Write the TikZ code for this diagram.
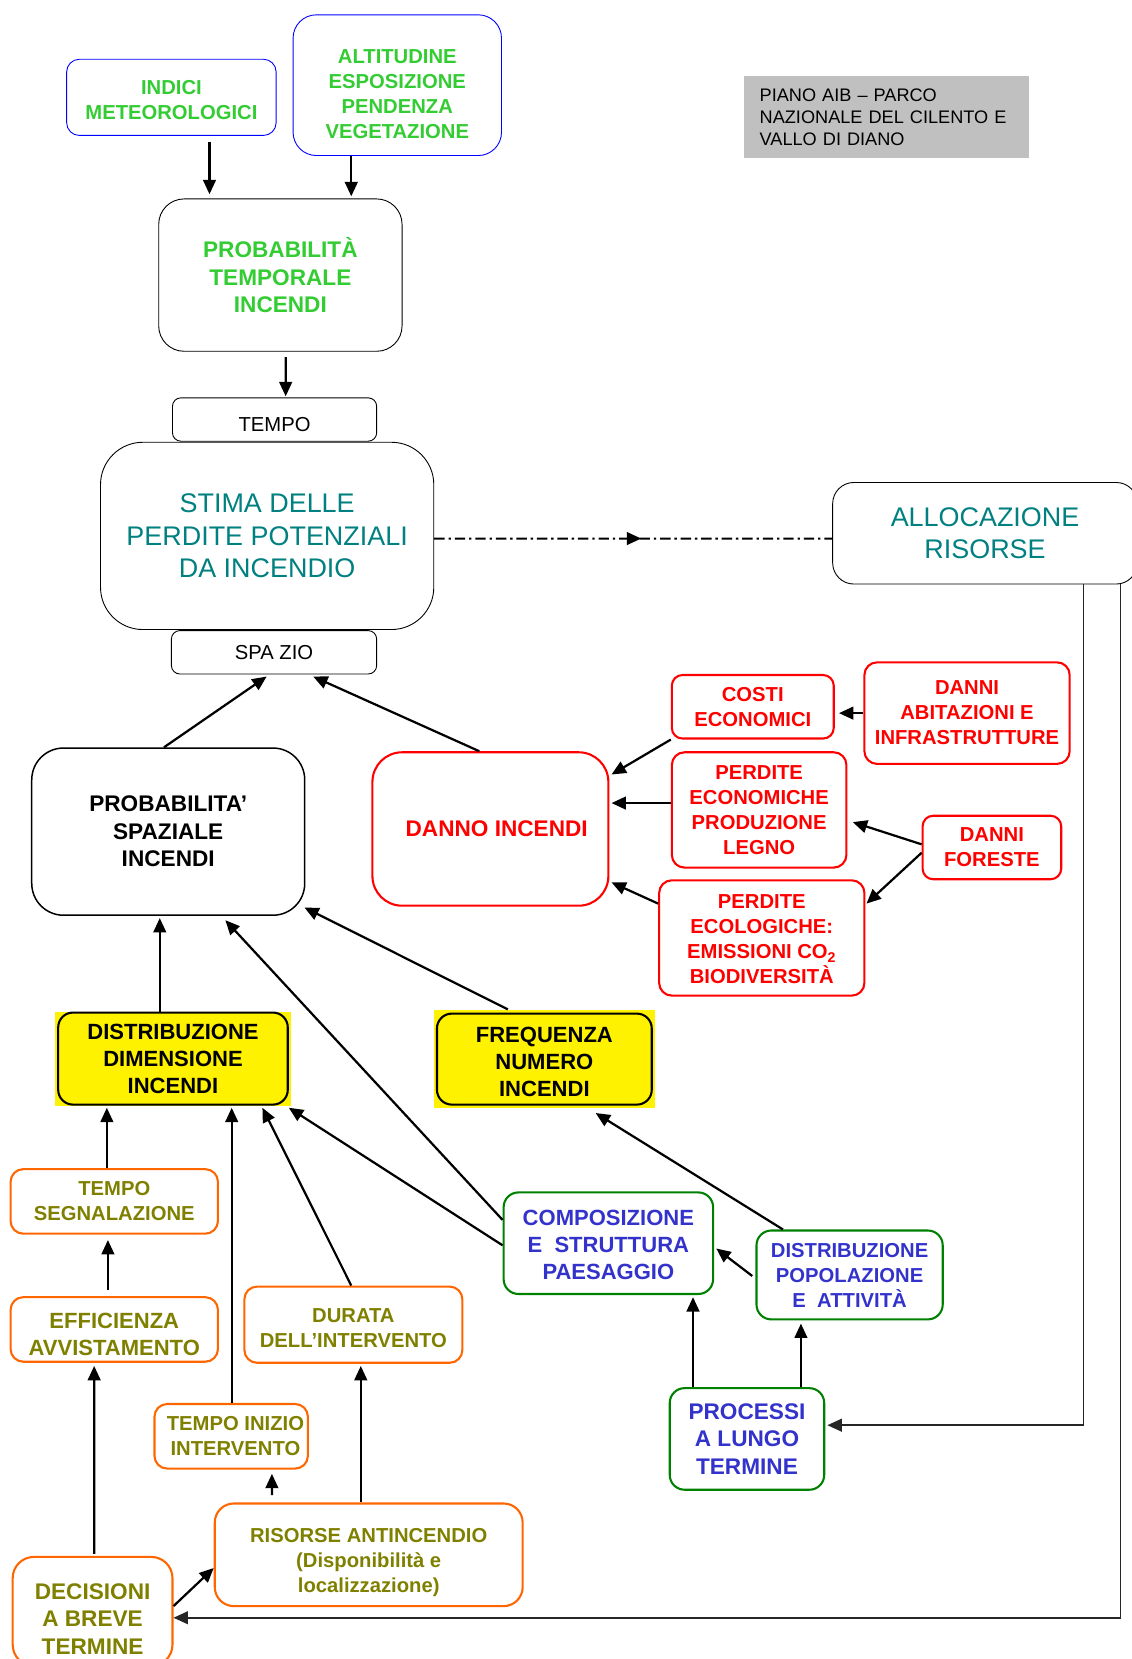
\documentclass[tikz,border=0pt]{standalone}
\usepackage{fontspec}
\setmainfont{Liberation Sans}
\usetikzlibrary{arrows.meta,calc,backgrounds,decorations.markings}

\definecolor{fgreen}{RGB}{51,204,51}
\definecolor{fteal}{RGB}{0,128,128}
\definecolor{forange}{RGB}{255,102,0}
\definecolor{folive}{RGB}{128,128,0}
\definecolor{fdkgreen}{RGB}{0,128,0}
\definecolor{fblue}{RGB}{51,51,204}
\definecolor{fgray}{RGB}{192,192,192}

\newcommand{\pxu}{0.025cm}
\newcommand{\fsmall}{\fontsize{13.6}{16.8}\selectfont\bfseries}
\newcommand{\fmid}{\fontsize{14.8}{18.2}\selectfont\bfseries}
\newcommand{\fbig}{\fontsize{15.2}{18.5}\selectfont\bfseries}
\newcommand{\fthin}{\fontsize{18.1}{22}\selectfont}
\newcommand{\flabel}{\fontsize{13.6}{16}\selectfont}
\newcommand{\fnote}{\fontsize{12.2}{14.9}\selectfont}
% taller first line, pushes the text block down
\newcommand{\tdown}[1]{\rule{0pt}{\dimexpr0.69em+#1pt\relax}}

\begin{document}
\begin{tikzpicture}[x=0.025cm, y=-0.025cm,
    every node/.style={inner sep=0pt, align=center},
    boxsize/.style 2 args={minimum width=#1*\pxu, minimum height=#2*\pxu},
    cause/.style={draw=blue, line width=0.6pt, text=fgreen, font=\fsmall},
    core/.style={draw, line width=0.6pt},
    dmg/.style={draw=red, line width=1.4pt, rounded corners=3mm, text=red, font=\fsmall},
    fire/.style={draw, line width=1.4pt, rounded corners=3.5mm, font=\fmid},
    land/.style={draw=fdkgreen, line width=1.4pt, rounded corners=3.5mm, text=fblue},
    supp/.style={draw=forange, line width=1.4pt, rounded corners=3mm, text=folive, font=\fsmall},
    arr/.style={-{Triangle[length=3.4mm,width=3mm]}, line width=1.5pt},
    feed/.style={arr, draw=black!85, line width=1.2pt}]

    \useasboundingbox (0,0) rectangle (1069,1568);

    % Title
    \node[fill=fgray, boxsize={270}{77}, text width=240*\pxu, align=left, font=\fnote] (piano) at (838,110.5)
        {PIANO AIB – PARCO\\NAZIONALE DEL CILENTO E\\VALLO DI DIANO};

    % Temporal probability
    \node[cause, boxsize={198}{72}, rounded corners=3mm] (indici) at (162,92)
        {\tdown{4.3}INDICI\\METEOROLOGICI};
    \node[cause, boxsize={197}{133}, rounded corners=5.5mm] (altit) at (375.5,80.5)
        {\tdown{11.4}ALTITUDINE\\ESPOSIZIONE\\PENDENZA\\VEGETAZIONE};
    \node[core, boxsize={230}{144}, rounded corners=6mm, text=fgreen, font=\fbig] (probt) at (265,260)
        {PROBABILITÀ\\TEMPORALE\\INCENDI};
    \draw[arr] ($(indici.south)+(36,6)$) -- ($(probt.north)+(-67,-4)$);
    \draw[arr] ($(altit.south)+(-43.5,0)$) -- ($(probt.north)+(67,-2)$);

    % Loss estimate
    \node[core, boxsize={193}{41}, rounded corners=2mm, font=\flabel] (tempo) at (259.5,396.5)
        {\tdown{7}TEMPO};
    \node[core, boxsize={315}{177}, rounded corners=1cm, text=fteal, font=\fthin] (stima) at (252.5,506.5)
        {STIMA DELLE\\PERDITE POTENZIALI\\DA INCENDIO};
    \node[core, boxsize={194}{41}, rounded corners=2mm, font=\flabel] (spazio) at (259,616.5) {SPA ZIO};
    \draw[arr] ($(probt.south)+(5,5)$) -- ($(tempo.north)+(10.5,-1)$);

    % Allocation
    \node[core, boxsize={288}{96}, rounded corners=5mm, text=fteal, font=\fthin] (alloc) at (931,504)
        {ALLOCAZIONE\\RISORSE};
    \draw[line width=1.4pt, dash pattern=on 7pt off 2.6pt on 1.6pt off 2.6pt,
        decoration={markings, mark=at position 0.52 with {\arrow{Triangle[length=3.4mm,width=3mm]}}},
        postaction={decorate}] ($(stima.east)+(0,2.5)$) -- ($(alloc.west)+(0,5)$);

    % Spatial probability and damage
    \node[draw, line width=1pt, rounded corners=7.5mm, boxsize={258}{158}, font=\fbig] (probs) at (159,786)
        {PROBABILITA’\\SPAZIALE\\INCENDI};
    \node[dmg, boxsize={223}{145}, rounded corners=7mm, font=\fbig] (danno) at (463.5,783.5)
        {\hspace*{8.5pt}DANNO INCENDI};
    \draw[arr] ($(probs.north)+(-4,0)$) -- ($(spazio.south)+(-7,2)$);
    \draw[arr] ($(danno.north)+(-10.5,0)$) -- ($(spazio.south)+(37,2)$);

    \node[dmg, boxsize={153}{60}, rounded corners=2.5mm] (costi) at (711.5,668) {COSTI\\ECONOMICI};
    \node[dmg, boxsize={194}{96}] (danniab) at (914,674) {DANNI\\ABITAZIONI E\\INFRASTRUTTURE};
    \node[dmg, boxsize={165}{109}] (perdecon) at (717.5,765.5) {PERDITE\\ECONOMICHE\\PRODUZIONE\\LEGNO};
    \node[dmg, boxsize={131}{60}, rounded corners=2.5mm] (danfor) at (937.5,801) {DANNI\\FORESTE};
    \node[dmg, boxsize={194}{109}] (perdecol) at (720,886.5)
        {\tdown{2}PERDITE\\ECOLOGICHE:\\EMISSIONI CO\textsubscript{2}\\BIODIVERSITÀ};

    \draw[arr] (danniab.west) -- ($(costi.east)+(4,6)$);
    \draw[arr] (costi.south west) -- ($(danno.north east)+(2,22)$);
    \draw[arr] ($(perdecon.west)+(0,-6.5)$) -- ($(danno.east)+(2,-24.5)$);
    \draw[arr] ($(danfor.west)+(0,-3)$) -- ($(perdecon.east)+(5,11.5)$);
    \draw[arr] ($(danfor.west)+(0,5)$) -- ($(perdecol.north east)+(1,23)$);
    \draw[arr] ($(perdecol.north west)+(0,23)$) -- ($(danno.south east)+(2,-23)$);

    % Fire size and frequency
    \node[fire, boxsize={217}{87}] (distdim) at (163.5,1000.5) {DISTRIBUZIONE\\DIMENSIONE\\INCENDI};
    \node[fire, boxsize={203}{86}] (freq) at (514.5,1001) {\tdown{4}FREQUENZA\\NUMERO\\INCENDI};
    \begin{scope}[on background layer]
        \fill[yellow] ($(distdim.north west)+(-2,0)$) rectangle ($(distdim.south east)+(2,0)$);
        \fill[yellow] ($(freq.north west)+(-2,-2)$) rectangle ($(freq.south east)+(2,2)$);
    \end{scope}
    \draw[arr] ($(distdim.north)+(-12.5,0)$) -- ($(probs.south)+(-8,2)$);
    \draw[arr] ($(freq.north)+(-34.5,-3)$) -- ($(probs.south east)+(-1,-8)$);

    % Landscape
    \node[land, boxsize={198}{96}, font=\fmid] (compos) at (575,1175)
        {\tdown{2}COMPOSIZIONE\\E\ \ STRUTTURA\\PAESAGGIO};
    \node[land, boxsize={176}{84}, font=\fsmall] (distpop) at (803,1205)
        {DISTRIBUZIONE\\POPOLAZIONE\\E\ \ ATTIVITÀ};
    \node[land, boxsize={146}{96}, font=\fbig] (processi) at (706,1360) {PROCESSI\\A LUNGO\\TERMINE};
    \draw[arr] ($(compos.west)+(0,-22)$) -- ($(probs.south)+(54,4)$);
    \draw[arr] ($(compos.west)+(0,2)$) -- ($(distdim.south east)+(0,2)$);
    \draw[arr] ($(distpop.north)+(-63,0)$) -- ($(freq.south)+(48.5,7)$);
    \draw[arr] ($(distpop.west)+(-3,1)$) -- ($(compos.east)+(2,5)$);
    \draw[arr] ($(processi.north)+(-51,0)$) -- ($(compos.south)+(80,2)$);
    \draw[arr] ($(processi.north)+(51,0)$) -- ($(distpop.south)+(-46,3)$);

    % Suppression
    \node[supp, boxsize={196}{61}] (tsegn) at (108,1135.5) {TEMPO\\SEGNALAZIONE};
    \node[supp, boxsize={196}{61}, font=\fmid] (effic) at (108,1256.5) {\tdown{7}EFFICIENZA\\AVVISTAMENTO};
    \node[supp, boxsize={206}{72}] (durata) at (334,1252) {\tdown{4.3}DURATA\\DELL’INTERVENTO};
    \node[supp, boxsize={145}{61}] (tinizio) at (218.5,1357.5)
        {\hspace*{5.7pt}TEMPO INIZIO\\\hspace*{5.7pt}INTERVENTO};
    \node[supp, boxsize={291}{97}, rounded corners=4.5mm] (risorse) at (348.5,1469.5)
        {\tdown{10}RISORSE ANTINCENDIO\\(Disponibilità e\\localizzazione)};
    \node[supp, boxsize={151}{103}, rounded corners=5mm, font=\fbig] (decis) at (87.5,1523)
        {\tdown{10}DECISIONI\\A BREVE\\TERMINE};

    \draw[arr] ($(tsegn.north)+(-7,0)$) -- ($(distdim.south)+(-62.5,2)$);
    \draw[arr] ($(effic.north)+(-6,-6)$) -- ($(tsegn.south)+(-6,5)$);
    \draw[arr] ($(durata.north)+(-2,0)$) -- ($(distdim.south)+(84.5,2)$);
    \draw[arr] ($(tinizio.north)+(0.5,0)$) -- ($(distdim.south)+(55.5,2)$);
    \draw[arr] ($(risorse.north)+(-91.5,-7)$) -- ($(tinizio.south)+(38.5,4)$);
    \draw[arr] ($(risorse.north)+(-7.5,0)$) -- ($(durata.south)+(7,2)$);
    \draw[arr] ($(decis.north)+(1.5,-2)$) -- ($(effic.south)+(-19,3)$);
    \draw[arr] ($(decis.east)+(0,-5)$) -- ($(risorse.west)+(0,12.5)$);

    % Feedback from allocation
    \draw[feed] ($(alloc.south)+(93,0)$) |- ($(processi.east)+(2,-13)$);
    \draw[feed] ($(alloc.south)+(128,0)$) |- ($(decis.east)+(0,6)$);
\end{tikzpicture}
\end{document}
